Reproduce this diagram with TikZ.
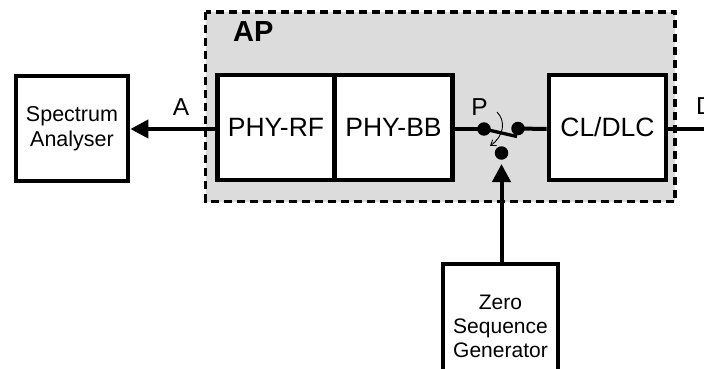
\documentclass[tikz,border=0pt]{standalone}
\usepackage{fontspec}
\setmainfont{Liberation Sans}
\usetikzlibrary{arrows.meta}
\definecolor{apgray}{RGB}{220,220,220}
\begin{document}
\begin{tikzpicture}[x=1pt,y=-1pt,
  blk/.style={draw,fill=white,line width=4.7pt,inner sep=0pt,align=center},
  conn/.style={line width=4pt},
  bigtip/.style={-{Triangle[length=18pt,width=18pt]}},
  lbl/.style={font=\fontsize{24.5}{28}\selectfont,anchor=base,inner sep=0pt},
  dot/.style={circle,fill,inner sep=0pt,minimum size=13.5pt}]
\useasboundingbox (0,0) rectangle (704,369);
\clip (0,0) rectangle (704,369);
% AP region
\draw[fill=apgray,line width=3.3pt,dash pattern=on 8pt off 5pt] (205.5,12) rectangle (675,201.5);
\node[font=\bfseries\fontsize{29}{32}\selectfont,anchor=base west,inner sep=0pt] (ap) at (233,42) {AP};
% blocks
\node[blk,minimum width=117pt,minimum height=105pt,font=\fontsize{26.5}{30}\selectfont] (rf) at (276,127.5) {PHY-RF};
\node[blk,minimum width=118pt,minimum height=105pt,font=\fontsize{26.5}{30}\selectfont] (bb) at (393.5,127.5) {PHY-BB};
\node[blk,minimum width=117pt,minimum height=105pt,font=\fontsize{26.5}{30}\selectfont] (cl) at (607.5,127.5) {CL/DLC};
\node[blk,minimum width=112pt,minimum height=105pt,font=\fontsize{21.5}{25}\selectfont] (sa) at (72,128.5) {Spectrum\\Analyser};
\node[blk,minimum width=115pt,minimum height=125pt,font=\fontsize{21}{24}\selectfont] (zs) at (500.5,326.5) {Zero\\Sequence\\Generator};
% switch
\node[dot] (d1) at (484,129) {};
\node[dot] (d2) at (518,128.5) {};
\node[dot] (d3) at (501.5,153) {};
\coordinate (lev) at (517,136.5);
\draw[line width=3.3pt] (d1.center) -- (lev);
\draw[line width=0.9pt,-{Straight Barb[length=5pt,width=7pt]}] (497,112) .. controls (506,121) and (504,136) .. (490,146);
% connectors
\draw[conn,bigtip] (rf.west |- 0,129) -- (sa.east |- 0,129);
\draw[conn] (bb.east |- 0,129) -- (d1.center);
\draw[conn] (d2.center) -- (cl.west |- 0,129);
\coordinate (dend) at (706,129);
\draw[conn] (cl.east |- 0,129) -- (dend);
\coordinate (ztip) at (501.5,164);
\draw[conn,bigtip] (zs.north -| ztip) -- (ztip);
% labels
\node[lbl] (la) at (181,115) {A};
\node[lbl] (lp) at (479.5,115) {P};
\node[lbl,anchor=base west] (ld) at (696,114) {D};
\end{tikzpicture}
\end{document}
